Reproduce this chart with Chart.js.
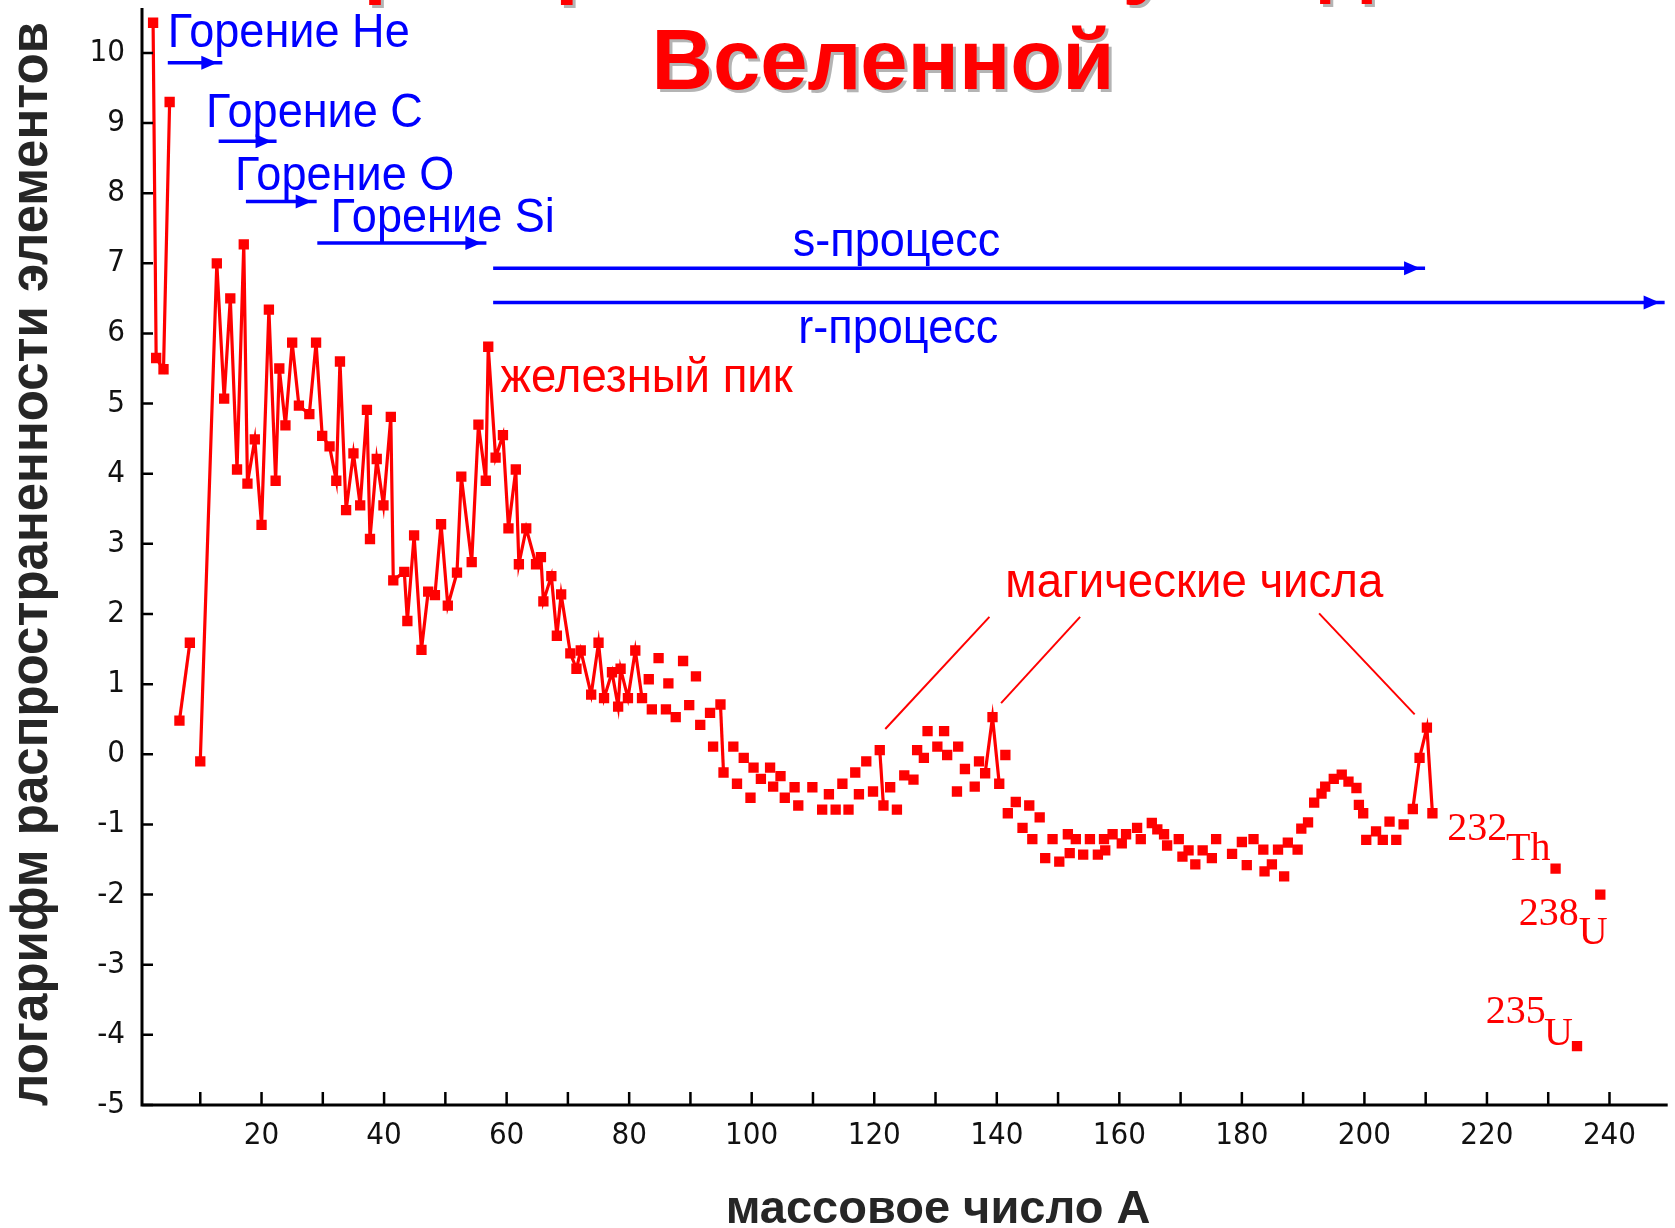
<!DOCTYPE html>
<html lang="ru">
<head>
<meta charset="utf-8">
<title>Распространенность нуклидов во Вселенной</title>
<script src="https://cdn.jsdelivr.net/npm/chart.js@4.4.1/dist/chart.umd.min.js"></script>
<style>
  html, body { margin: 0; padding: 0; background: #fff; }
  #wrap { width: 1675px; height: 1228px; }
</style>
</head>
<body>
<div id="wrap"><canvas id="abundanceChart" width="1675" height="1228"></canvas></div>
<script>
// mass number of every plotted nuclide
const massNumber = [
  2.3, 2.8, 4.0, 5.0, 6.6, 8.3, 10.0, 12.7, 13.9, 14.9,
  16.0, 17.1, 17.7, 18.9, 20.0, 21.2, 22.3, 22.9, 23.9, 25.0,
  26.1, 27.8, 28.9, 29.9, 31.1, 32.2, 32.8, 33.8, 35.0, 36.1,
  37.2, 37.7, 38.8, 39.9, 41.1, 41.5, 43.3, 43.8, 44.9, 46.1,
  47.2, 48.3, 49.3, 50.4, 51.9, 52.6, 54.3, 55.4, 56.6, 57.0,
  58.2, 59.4, 60.3, 61.5, 62.0, 63.2, 64.8, 65.6, 66.0, 67.3,
  68.2, 68.9, 70.4, 71.4, 72.1, 73.8, 75.0, 75.9, 77.2, 78.2,
  78.6, 79.8, 81.0, 82.1, 83.2, 83.7, 84.8, 86.0, 86.4, 87.6,
  88.8, 89.8, 90.9, 91.6, 93.2, 93.7, 94.9, 95.4, 97.0, 97.6,
  98.7, 99.8, 100.3, 101.5, 103.0, 103.5, 104.7, 105.4, 107.0, 107.6,
  109.9, 111.5, 112.6, 113.7, 114.8, 115.8, 116.9, 117.5, 118.7, 119.8,
  120.9, 121.5, 122.6, 123.7, 124.9, 126.4, 127.0, 128.1, 128.7, 130.3,
  131.4, 131.9, 133.5, 133.7, 134.8, 136.4, 137.1, 138.1, 139.3, 140.4,
  141.4, 141.8, 143.1, 144.2, 145.3, 145.8, 147.0, 147.9, 149.1, 150.2,
  151.6, 151.9, 152.9, 154.1, 155.2, 156.5, 157.5, 157.7, 158.9, 160.4,
  161.1, 162.9, 163.5, 165.3, 166.2, 167.3, 167.8, 169.7, 170.3, 171.3,
  172.4, 173.6, 175.1, 175.8, 178.4, 180.0, 180.8, 181.9, 183.5, 183.7,
  184.9, 185.9, 186.9, 187.5, 189.1, 189.7, 190.8, 191.8, 193.0, 193.6,
  195.0, 196.3, 197.4, 198.7, 199.1, 199.8, 200.3, 201.9, 203.0, 204.1,
  205.2, 206.4, 207.9, 209.0, 210.2, 211.1, 231.2, 234.7, 238.5
];

// log of abundance for the same nuclides
const logAbundance = [
  10.43, 5.65, 5.49, 9.30, 0.48, 1.59, -0.10, 7.00, 5.07, 6.50,
  4.06, 7.27, 3.86, 4.49, 3.27, 6.34, 3.90, 5.50, 4.69, 5.87,
  4.97, 4.85, 5.87, 4.54, 4.39, 3.90, 5.60, 3.48, 4.29, 3.55,
  4.91, 3.07, 4.21, 3.55, 4.81, 2.48, 2.60, 1.90, 3.12, 1.49,
  2.32, 2.27, 3.28, 2.12, 2.59, 3.96, 2.74, 4.70, 3.90, 5.81,
  4.23, 4.55, 3.22, 4.06, 2.71, 3.22, 2.71, 2.81, 2.18, 2.54,
  1.69, 2.28, 1.44, 1.22, 1.48, 0.85, 1.59, 0.80, 1.17, 0.68,
  1.22, 0.80, 1.48, 0.80, 1.07, 0.64, 1.37, 0.64, 1.01, 0.53,
  1.33, 0.70, 1.11, 0.42, 0.59, 0.11, 0.71, -0.26, 0.11, -0.42,
  -0.05, -0.62, -0.19, -0.35, -0.19, -0.46, -0.31, -0.62, -0.47, -0.73,
  -0.47, -0.79, -0.57, -0.79, -0.42, -0.79, -0.26, -0.57, -0.10, -0.53,
  0.06, -0.73, -0.47, -0.79, -0.30, -0.36, 0.06, -0.05, 0.33, 0.11,
  0.33, -0.01, -0.53, 0.11, -0.21, -0.46, -0.10, -0.27, 0.53, -0.42,
  -0.01, -0.84, -0.68, -1.05, -0.73, -1.21, -0.90, -1.48, -1.21, -1.53,
  -1.14, -1.41, -1.21, -1.43, -1.21, -1.43, -1.21, -1.37, -1.14, -1.27,
  -1.14, -1.05, -1.21, -0.98, -1.07, -1.14, -1.30, -1.21, -1.46, -1.37,
  -1.57, -1.37, -1.48, -1.21, -1.42, -1.25, -1.58, -1.21, -1.36, -1.67,
  -1.57, -1.36, -1.74, -1.26, -1.36, -1.06, -0.97, -0.69, -0.56, -0.46,
  -0.35, -0.29, -0.39, -0.48, -0.72, -0.84, -1.22, -1.10, -1.22, -0.96,
  -1.22, -1.00, -0.78, -0.05, 0.38, -0.84, -1.63, -4.16, -2.00
];

// index ranges of points that are joined by the red line
const lineRuns = [[0, 3], [4, 5], [6, 73], [86, 87], [110, 111], [127, 129], [192, 195]];

// axis tick labels
const xTickLabels = [20, 40, 60, 80, 100, 120, 140, 160, 180, 200, 220, 240];
const yTickLabels = [-5, -4, -3, -2, -1, 0, 1, 2, 3, 4, 5, 6, 7, 8, 9, 10];

// burning stages / processes: arrow from a1 to a2 at height v
const processArrows = [
  { a1: 4.7, a2: 13.6, v: 9.86 },
  { a1: 13.0, a2: 22.45, v: 8.74 },
  { a1: 17.45, a2: 29.0, v: 7.88 },
  { a1: 29.1, a2: 56.7, v: 7.29 },
  { a1: 57.8, a2: 209.9, v: 6.93 },
  { a1: 57.8, a2: 249.0, v: 6.44 }
];
const processLabels = [
  { text: 'Горение He', a: 4.7, v: 10.08 },
  { text: 'Горение C', a: 10.95, v: 8.94 },
  { text: 'Горение O', a: 15.66, v: 8.05 },
  { text: 'Горение Si', a: 31.25, v: 7.44 },
  { text: 's-процесс', a: 106.7, v: 7.11 },
  { text: 'r-процесс', a: 107.6, v: 5.86 }
];
const peakLabels = [
  { text: 'железный пик', a: 59.0, v: 5.16 },
  { text: 'магические числа', a: 141.4, v: 2.24 }
];
// pointer lines from the "magic numbers" label
const magicPointers = [
  [[138.8, 1.96], [121.8, 0.36]],
  [[153.6, 1.96], [140.7, 0.73]],
  [[192.6, 2.01], [208.2, 0.57]]
];
// isotope names next to the actinide points
const isotopeLabels = [
  { text: '232', a: 213.5, v: -1.22 }, { text: 'Th', a: 223.1, v: -1.50 },
  { text: '238', a: 225.2, v: -2.43 }, { text: 'U', a: 235.0, v: -2.71 },
  { text: '235', a: 219.8, v: -3.83 }, { text: 'U', a: 229.3, v: -4.14 }
];

const RED = '#ff0000';
const BLUE = '#0000ff';
const INK = '#262626';
const SANS = "'Liberation Sans', Arial, sans-serif";
const NARROW = "'Liberation Sans Narrow', 'DejaVu Sans Condensed', sans-serif";

const points = massNumber.map((a, i) => ({ x: a, y: logAbundance[i] }));

// one line dataset per joined run
const runSets = lineRuns.map(([from, to]) => ({
  data: points.slice(from, to + 1),
  showLine: true,
  borderColor: RED,
  borderWidth: 3.2,
  pointRadius: 0,
  tension: 0,
  order: 2
}));

function drawLabel(ctx, text, x, y, o) {
  ctx.save();
  ctx.font = o.font;
  ctx.fillStyle = o.color;
  ctx.textAlign = o.align || 'left';
  ctx.textBaseline = 'alphabetic';
  if (o.shadow) {
    ctx.shadowColor = o.shadow;
    ctx.shadowOffsetX = 3;
    ctx.shadowOffsetY = 3;
    ctx.shadowBlur = 0;
  }
  ctx.translate(x, y);
  if (o.rotate) ctx.rotate(o.rotate);
  ctx.scale(o.sx || 1, 1);
  ctx.fillText(text, 0, 0);
  ctx.restore();
}

// axes with inward ticks, arrows, notes and titles
const decor = {
  id: 'decor',
  afterDraw(chart) {
    const ctx = chart.ctx;
    const area = chart.chartArea;
    const xs = chart.scales.x, ys = chart.scales.y;
    const X = a => xs.getPixelForValue(a);
    const Y = v => ys.getPixelForValue(v);
    const axisX = area.left + 3;

    ctx.save();
    ctx.strokeStyle = '#000';
    ctx.lineWidth = 3;
    ctx.beginPath();
    ctx.moveTo(axisX, area.top);
    ctx.lineTo(axisX, area.bottom);
    ctx.lineTo(area.right, area.bottom);
    ctx.stroke();

    ctx.lineWidth = 2.5;
    ctx.beginPath();
    xs.ticks.forEach(t => {
      if (t.value <= 0) return;
      ctx.moveTo(X(t.value), area.bottom);
      ctx.lineTo(X(t.value), area.bottom - 13);
    });
    ys.ticks.forEach(t => {
      if (!yTickLabels.includes(t.value)) return;
      ctx.moveTo(axisX, Y(t.value));
      ctx.lineTo(axisX + 11, Y(t.value));
    });
    ctx.stroke();

    // process arrows
    ctx.strokeStyle = BLUE;
    ctx.fillStyle = BLUE;
    ctx.lineWidth = 3.5;
    processArrows.forEach(p => {
      const y = Y(p.v), x1 = X(p.a1), x2 = X(p.a2);
      ctx.beginPath();
      ctx.moveTo(x1, y);
      ctx.lineTo(x2, y);
      ctx.stroke();
      const tip = x2 - 5;
      ctx.beginPath();
      ctx.moveTo(tip, y);
      ctx.lineTo(tip - 16, y - 7);
      ctx.lineTo(tip - 16, y + 7);
      ctx.closePath();
      ctx.fill();
    });

    // magic number pointers
    ctx.strokeStyle = RED;
    ctx.lineWidth = 2;
    magicPointers.forEach(([p, q]) => {
      ctx.beginPath();
      ctx.moveTo(X(p[0]), Y(p[1]));
      ctx.lineTo(X(q[0]), Y(q[1]));
      ctx.stroke();
    });
    ctx.restore();

    processLabels.forEach(l => drawLabel(ctx, l.text, X(l.a), Y(l.v),
      { font: '49px ' + SANS, color: BLUE, sx: 0.92 }));
    peakLabels.forEach(l => drawLabel(ctx, l.text, X(l.a), Y(l.v),
      { font: '49px ' + SANS, color: RED, sx: 0.93 }));
    isotopeLabels.forEach(l => drawLabel(ctx, l.text, X(l.a), Y(l.v),
      { font: "40px 'Liberation Serif', serif", color: RED }));

    // axis titles
    drawLabel(ctx, 'логарифм распространенности элементов', 47, 564,
      { font: 'bold 51px ' + SANS, color: INK, align: 'center', rotate: -Math.PI / 2 });
    drawLabel(ctx, 'массовое число А', 938, 1223,
      { font: 'bold 47px ' + SANS, color: INK, align: 'center' });

    // slide title, first line cut by the top edge
    drawLabel(ctx, 'Распространенность нуклидов во', 883, -13,
      { font: 'bold 85px ' + SANS, color: RED, align: 'center', shadow: '#b4b4b4' });
    drawLabel(ctx, 'Вселенной', 883, 89,
      { font: 'bold 85px ' + SANS, color: RED, align: 'center', shadow: '#b4b4b4' });
  }
};

new Chart(document.getElementById('abundanceChart'), {
  type: 'scatter',
  data: {
    datasets: [
      {
        data: points,
        pointStyle: 'rect',
        pointRadius: 7.3,
        pointBorderWidth: 0,
        backgroundColor: RED,
        borderColor: RED,
        showLine: false,
        order: 1
      },
      ...runSets
    ]
  },
  options: {
    responsive: false,
    animation: false,
    devicePixelRatio: 1,
    layout: { padding: { top: 8, left: 0, right: 0, bottom: 0 } },
    plugins: { legend: { display: false }, tooltip: { enabled: false }, title: { display: false } },
    scales: {
      x: {
        type: 'linear',
        min: 0,
        max: 249.5,
        grid: { display: false, drawTicks: false },
        border: { display: false },
        ticks: {
          stepSize: 10,
          includeBounds: false,
          autoSkip: false,
          maxRotation: 0,
          padding: 12,
          color: '#111',
          font: { family: NARROW, size: 31 },
          callback: v => xTickLabels.includes(v) ? String(v) : ''
        },
        afterFit(scale) {
          scale.height = 123;
          scale.paddingLeft = 0;
          scale.paddingRight = 0;
        }
      },
      y: {
        type: 'linear',
        min: -5,
        max: 10.64,
        grid: { display: false, drawTicks: false },
        border: { display: false },
        ticks: {
          stepSize: 1,
          includeBounds: false,
          autoSkip: false,
          padding: 14,
          color: '#111',
          font: { family: NARROW, size: 31 },
          callback: v => yTickLabels.includes(v) ? String(v) : ''
        },
        afterFit(scale) {
          scale.width = 139;
          scale.paddingTop = 0;
          scale.paddingBottom = 0;
        }
      }
    }
  },
  plugins: [decor]
});
</script>
</body>
</html>
